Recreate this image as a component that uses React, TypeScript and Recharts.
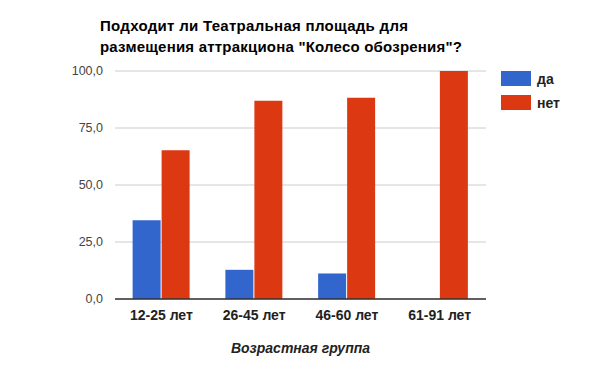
import { BarChart, Bar, XAxis, YAxis, CartesianGrid, Legend } from "recharts";

const ageGroups = ["12-25 лет", "26-45 лет", "46-60 лет", "61-91 лет"];
const yesValues = [34.5, 12.8, 11.2, 0];
const noValues = [65.2, 87.0, 88.3, 100];
const yTicks = [0, 25, 50, 75, 100];
const titleLines = [
  "Подходит ли Театральная площадь для",
  'размещения аттракциона "Колесо обозрения"?',
];
const titleWidths = [308, 362];

const data = ageGroups.map((group, i) => ({
  group,
  yes: yesValues[i],
  no: noValues[i],
}));

const font = '"Liberation Sans", Arial, sans-serif';

const renderLegend = (props: any) => {
  const { payload } = props;
  return (
    <div>
      {payload.map((entry: any, index: number) => (
        <div
          key={`item-${index}`}
          style={{ display: "flex", alignItems: "center", height: 15, marginBottom: 9 }}
        >
          <div style={{ width: 30, height: 15, background: entry.color, marginRight: 6 }} />
          <span style={{ fontFamily: font, fontSize: 14, fontWeight: "bold", color: "#222" }}>
            {entry.value}
          </span>
        </div>
      ))}
    </div>
  );
};

export default function App() {
  return (
    <div style={{ position: "absolute", left: 0, top: 0, width: 600, height: 371, background: "#fff" }}>
      <svg width={600} height={60} style={{ position: "absolute", left: 0, top: 0 }}>
        {titleLines.map((line, i) => (
          <text
            key={i}
            x={100}
            y={30.5 + i * 21.5}
            textLength={titleWidths[i]}
            lengthAdjust="spacing"
            fontFamily={font}
            fontSize={15}
            fontWeight="bold"
            fill="#000"
          >
            {line}
          </text>
        ))}
      </svg>
      <BarChart
        width={600}
        height={371}
        data={data}
        margin={{ top: 71, right: 114, left: 0, bottom: 0 }}
        barCategoryGap="19%"
        barGap={1}
      >
        <CartesianGrid vertical={false} stroke="#cccccc" />
        <XAxis
          dataKey="group"
          height={72}
          axisLine={{ stroke: "#333", strokeWidth: 1.5 }}
          tickLine={false}
          tickMargin={5}
          tick={{ fontFamily: font, fontSize: 14, fontWeight: "bold", fill: "#222" }}
          label={{
            value: "Возрастная группа",
            position: "insideBottom",
            offset: 18,
            style: { fontFamily: font, fontSize: 14, fontWeight: "bold", fontStyle: "italic", fill: "#222" },
          }}
        />
        <YAxis
          width={115}
          domain={[0, 100]}
          ticks={yTicks}
          axisLine={false}
          tickLine={false}
          tickMargin={6}
          tickFormatter={(v) => v.toFixed(1).replace(".", ",")}
          tick={{ fontFamily: font, fontSize: 12.5, fill: "#444" }}
        />
        <Legend
          layout="vertical"
          align="center"
          verticalAlign="middle"
          content={renderLegend}
          wrapperStyle={{ left: 501, top: 71, width: 90 }}
        />
        <Bar dataKey="yes" name="да" fill="#3366cc" isAnimationActive={false} />
        <Bar dataKey="no" name="нет" fill="#dc3912" isAnimationActive={false} />
      </BarChart>
    </div>
  );
}
